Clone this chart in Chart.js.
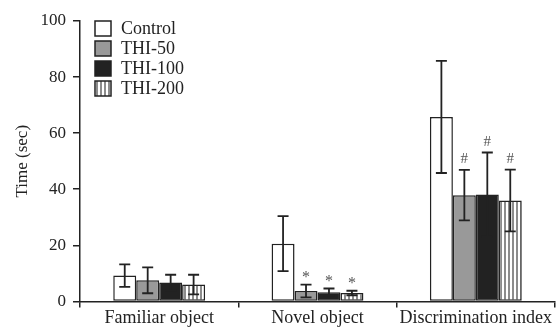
<!DOCTYPE html>
<html>
<head>
<meta charset="utf-8">
<script src="https://cdn.jsdelivr.net/npm/chart.js@4/dist/chart.umd.min.js"></script>
<style>
  html, body { margin: 0; padding: 0; background: #fff; }
  #wrap { width: 556px; height: 329px; }
</style>
</head>
<body>
<div id="wrap"><canvas id="c"></canvas></div>
<script>
const categories = ['Familiar object', 'Novel object', 'Discrimination index']
const groups = ['Control', 'THI-50', 'THI-100', 'THI-200']
const control = [9.2, 20.6, 65.8]
const controlErr = [4.0, 9.8, 20.0]
const thi50 = [7.5, 3.7, 37.9]
const thi50Err = [4.6, 2.3, 9.0]
const thi100 = [6.7, 3.3, 38.1]
const thi100Err = [2.8, 1.3, 15.0]
const thi200 = [6.0, 3.0, 36.0]
const thi200Err = [3.5, 0.8, 11.0]
const marks50 = ['', '*', '#']
const marks100 = ['', '*', '#']
const marks200 = ['', '*', '#']
const yTicks = [0, 20, 40, 60, 80, 100]

const ink = '#222'
const serif = "'Liberation Serif', 'Times New Roman', serif"

function stripes () {
  const c = document.createElement('canvas')
  c.width = 4
  c.height = 4
  const g = c.getContext('2d')
  g.fillStyle = '#fff'
  g.fillRect(0, 0, 4, 4)
  g.fillStyle = '#8c8c8c'
  g.fillRect(0, 0, 2, 4)
  return g.createPattern(c, 'repeat')
}

const errs = [controlErr, thi50Err, thi100Err, thi200Err]
const marks = [null, marks50, marks100, marks200]

const errorBars = {
  id: 'errorBars',
  afterDatasetsDraw (chart) {
    const ctx = chart.ctx
    const y = chart.scales.y
    ctx.save()
    ctx.strokeStyle = ink
    ctx.lineWidth = 1.8
    chart.data.datasets.forEach((ds, i) => {
      chart.getDatasetMeta(i).data.forEach((bar, j) => {
        const v = ds.data[j]
        const e = errs[i][j]
        const top = y.getPixelForValue(v + e)
        const bot = y.getPixelForValue(v - e)
        ctx.beginPath()
        ctx.moveTo(bar.x, top)
        ctx.lineTo(bar.x, bot)
        ctx.moveTo(bar.x - 5.5, top)
        ctx.lineTo(bar.x + 5.5, top)
        ctx.moveTo(bar.x - 5.5, bot)
        ctx.lineTo(bar.x + 5.5, bot)
        ctx.stroke()
        if (marks[i] && marks[i][j]) {
          ctx.fillStyle = '#555'
          ctx.font = (marks[i][j] === '*' ? '16px ' : '15px ') + serif
          ctx.textAlign = 'center'
          ctx.textBaseline = 'bottom'
          ctx.fillText(marks[i][j], bar.x, top - (marks[i][j] === '*' ? -1 : 3))
        }
      })
    })
    ctx.restore()
  }
}

const boxLegend = {
  id: 'boxLegend',
  afterDraw (chart) {
    const ctx = chart.ctx
    ctx.save()
    chart.data.datasets.forEach((ds, i) => {
      const bx = 95
      const by = 21 + i * 20
      ctx.fillStyle = ds.backgroundColor
      ctx.fillRect(bx, by, 16, 15)
      ctx.strokeStyle = ink
      ctx.lineWidth = 1.5
      ctx.strokeRect(bx, by, 16, 15)
      ctx.fillStyle = ink
      ctx.font = '18px ' + serif
      ctx.textAlign = 'left'
      ctx.textBaseline = 'middle'
      ctx.fillText(ds.label, 121, by + 8)
    })
    ctx.restore()
  }
}

const fills = ['#ffffff', '#999999', '#222222', stripes()]
const values = [control, thi50, thi100, thi200]

new Chart(document.getElementById('c').getContext('2d'), {
  type: 'bar',
  data: {
    labels: categories,
    datasets: groups.map((g, i) => ({
      label: g,
      data: values[i],
      backgroundColor: fills[i],
      borderColor: ink,
      borderWidth: 1.5,
      borderSkipped: false,
      categoryPercentage: 0.58,
      barPercentage: 1
    }))
  },
  options: {
    responsive: true,
    maintainAspectRatio: false,
    animation: false,
    layout: { padding: { top: 21, right: 1, left: 12 } },
    plugins: {
      legend: { display: false },
      tooltip: { enabled: false }
    },
    scales: {
      x: {
        offset: true,
        grid: { display: true, drawOnChartArea: false, offset: true, tickLength: 6, color: ink, lineWidth: 1.5 },
        border: { color: ink, width: 1.5 },
        ticks: { color: ink, font: { family: serif, size: 18 }, padding: 0, maxRotation: 0, minRotation: 0, autoSkip: false }
      },
      y: {
        min: 0,
        max: 100,
        afterFit (scale) { scale.width = 68 },
        afterBuildTicks (scale) { scale.ticks = yTicks.map(v => ({ value: v })) },
        grid: { drawOnChartArea: false, tickLength: 7, color: ink, lineWidth: 1.5 },
        border: { color: ink, width: 1.5 },
        ticks: { color: ink, font: { family: serif, size: 17 }, padding: 7 },
        title: { display: true, text: 'Time (sec)', color: ink, font: { family: serif, size: 17 }, padding: 0 }
      }
    }
  },
  plugins: [errorBars, boxLegend]
})
</script>
</body>
</html>
